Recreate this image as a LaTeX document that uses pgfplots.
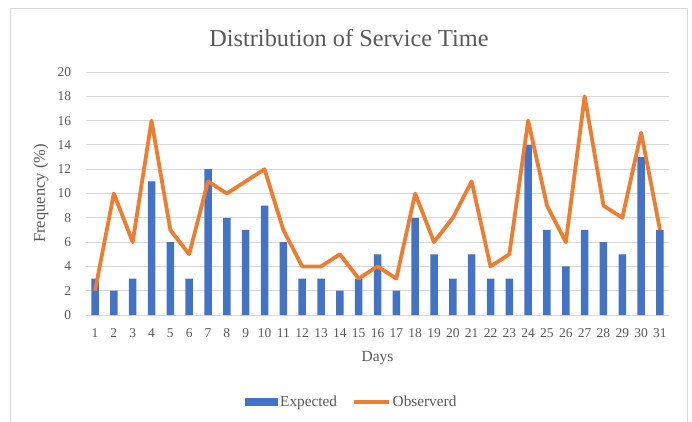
\documentclass[border=0pt]{standalone}
\usepackage{pgfplots}
\pgfplotsset{compat=1.18}
\usepackage{fontspec}
\setmainfont{Liberation Serif}
\definecolor{barblue}{HTML}{4472C4}
\definecolor{lineorange}{HTML}{ED7D31}
\definecolor{txtgrey}{HTML}{595959}
\definecolor{gridgrey}{HTML}{D9D9D9}
\begin{document}
\begin{tikzpicture}[x=1pt,y=1pt]
\begin{axis}[
  name=ax,
  width=583.8pt, height=243pt, scale only axis,
  xmin=0.5, xmax=31.5, ymin=0, ymax=20,
  xtick={1,...,31}, ytick={0,2,...,20},
  major tick length=0pt,
  axis line style={draw=none},
  ymajorgrids, grid style={gridgrey, line width=0.9pt},
  /pgf/number format/assume math mode=true,
  tick label style={txtgrey, font=\fontsize{13.5}{15}\selectfont},
  yticklabel style={xshift=-11pt},
  xticklabel style={yshift=-10pt},
  xlabel={Days}, ylabel={Frequency (\%)},
  xlabel style={txtgrey, font=\fontsize{15.5}{17}\selectfont, at={(axis description cs:0.5,-0.177)}, anchor=center},
  ylabel style={txtgrey, font=\fontsize{16.5}{18}\selectfont, at={(axis description cs:-0.0764,0.5)}, anchor=center},
  legend style={at={(axis description cs:0.456,-0.358)}, anchor=center, draw=none,
    legend columns=2, font=\fontsize{15.3}{17}\selectfont, text=txtgrey,
    /tikz/every even column/.append style={column sep=13pt}},
]
\coordinate (P0) at (rel axis cs:0,0);
\addplot[ybar, bar width=7.5pt, fill=barblue, draw=none,
  legend image code/.code={\fill[barblue] (0pt,-4pt) rectangle (33pt,4pt);}]
  coordinates {(1,3)(2,2)(3,3)(4,11)(5,6)(6,3)(7,12)(8,8)(9,7)(10,9)(11,6)(12,3)(13,3)(14,2)(15,3)(16,5)(17,2)(18,8)(19,5)(20,3)(21,5)(22,3)(23,3)(24,14)(25,7)(26,4)(27,7)(28,6)(29,5)(30,13)(31,7)};
\addlegendentry{Expected}
\addplot[lineorange, line width=3.8pt, line join=round, mark=none,
  legend image code/.code={\draw[lineorange, line width=3.6pt] (0pt,0pt) -- (35pt,0pt);}]
  coordinates {(1,2)(2,10)(3,6)(4,16)(5,7)(6,5)(7,11)(8,10)(9,11)(10,12)(11,7)(12,4)(13,4)(14,5)(15,3)(16,4)(17,3)(18,10)(19,6)(20,8)(21,11)(22,4)(23,5)(24,16)(25,9)(26,6)(27,18)(28,9)(29,8)(30,15)(31,7)};
\addlegendentry{Observerd}
\end{axis}
\pgfresetboundingbox
\begin{scope}[shift={(P0)}, shift={(-85.6,-106)}]
\useasboundingbox (0,0) rectangle (692,421);
\draw[gridgrey, line width=1pt] (11,412) rectangle (687,-5);
\node[txtgrey, font=\fontsize{24.3}{28}\selectfont] at (349,383) {Distribution of Service Time};
\end{scope}
\end{tikzpicture}
\end{document}
